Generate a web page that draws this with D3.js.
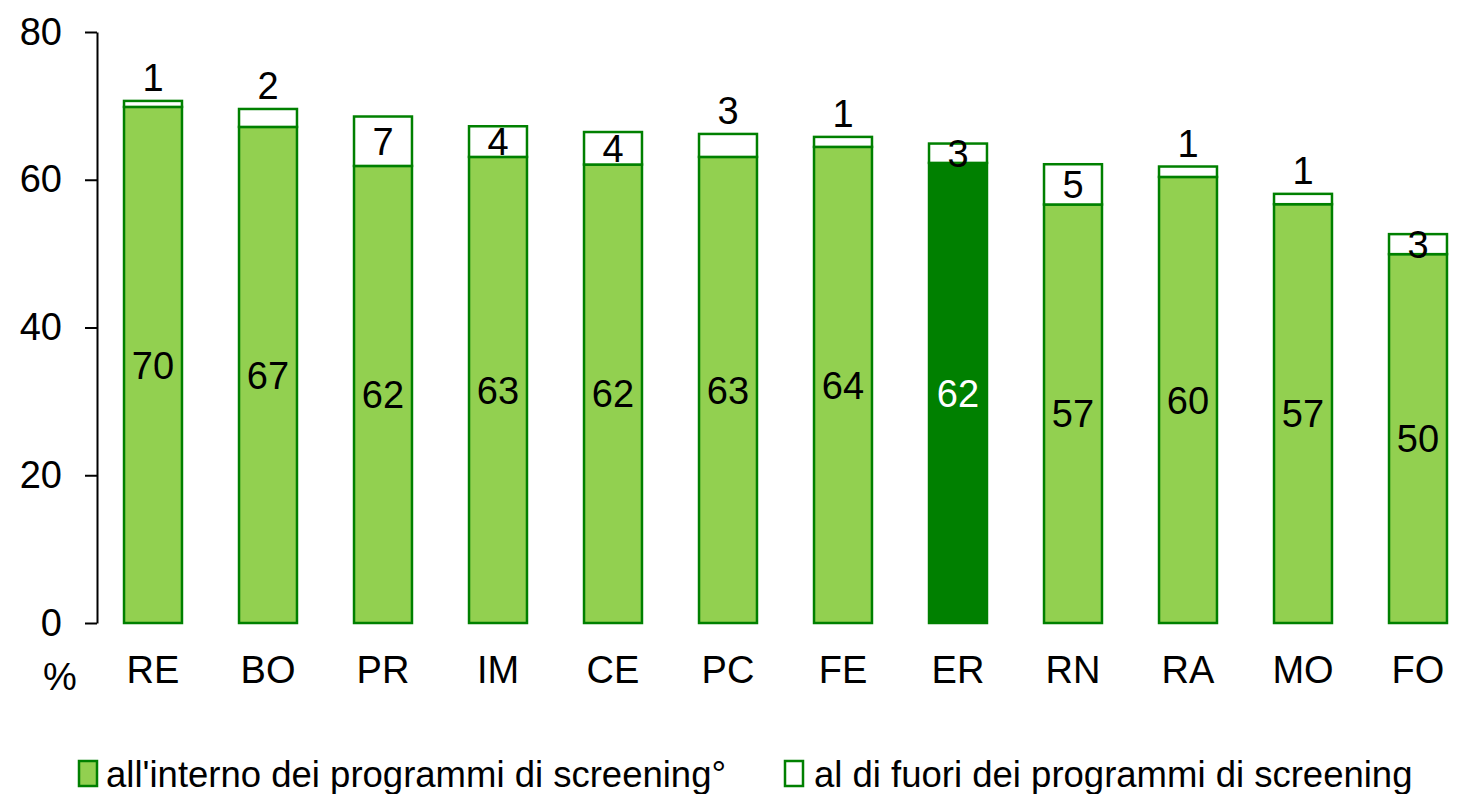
<!DOCTYPE html>
<html>
<head>
<meta charset="utf-8">
<script src="https://cdn.jsdelivr.net/npm/d3@7"></script>
<style>
  html, body { margin: 0; padding: 0; background: #fff; }
  svg { display: block; font-family: "Liberation Sans", Arial, sans-serif; }
</style>
</head>
<body>
<svg id="chart" width="1460" height="794"></svg>
<script>
// ---- data ----
const categories = ["RE", "BO", "PR", "IM", "CE", "PC", "FE", "ER", "RN", "RA", "MO", "FO"];
const insideValues = [69.86, 67.15, 61.87, 63.09, 62.06, 63.09, 64.45, 62.28, 56.65, 60.38, 56.69, 49.93];
const outsideValues = [0.81, 2.43, 6.69, 4.15, 4.40, 3.11, 1.35, 2.62, 5.45, 1.41, 1.40, 2.71];
const outsideLabelPlacement = ["above", "above", "center", "center", "center", "above", "above", "center", "center", "above", "above", "center"];
const highlightCategory = "ER";
const yTicks = [0, 20, 40, 60, 80];
const seriesNames = ["all'interno dei programmi di screening°", "al di fuori dei programmi di screening"];

// ---- styles ----
const lightGreen = "#92D050";
const darkGreen = "#008000";
const strokeGreen = "#008000";
const fontSize = 38;

const svg = d3.select("#chart");

const x = d3.scaleBand()
  .domain(categories)
  .range([95.5, 1475.5])
  .paddingInner(0.496)
  .paddingOuter(0.248);

const y = d3.scaleLinear().domain([0, 80]).range([623, 32]);

const data = categories.map((c, i) => ({
  cat: c,
  inside: insideValues[i],
  outside: outsideValues[i],
  total: insideValues[i] + outsideValues[i],
  place: outsideLabelPlacement[i]
}));

// ---- y axis ----
const yAxis = d3.axisLeft(y).tickValues(yTicks).tickSize(12).tickSizeOuter(0).tickPadding(23);
const gy = svg.append("g").attr("transform", "translate(97,0)").call(yAxis);
gy.select(".domain").attr("stroke", "#000").attr("stroke-width", 2);
gy.selectAll(".tick line").attr("stroke", "#000").attr("stroke-width", 2);
gy.selectAll(".tick text")
  .attr("font-size", fontSize)
  .attr("font-family", "Liberation Sans, Arial, sans-serif")
  .attr("fill", "#000");

// ---- x labels ----
const xAxis = d3.axisBottom(x).tickSize(0).tickPadding(0);
const gx = svg.append("g").attr("transform", "translate(0,623)").call(xAxis);
gx.select(".domain").remove();
gx.selectAll(".tick text")
  .attr("font-size", fontSize)
  .attr("font-family", "Liberation Sans, Arial, sans-serif")
  .attr("fill", "#000")
  .attr("dy", null)
  .attr("y", 60);

svg.append("text")
  .attr("x", 60).attr("y", 690)
  .attr("text-anchor", "middle")
  .attr("font-size", fontSize)
  .text("%");

// ---- bars ----
const bars = svg.append("g").selectAll("g").data(data).join("g");

bars.append("rect")
  .attr("x", d => x(d.cat))
  .attr("width", x.bandwidth())
  .attr("y", d => y(d.inside))
  .attr("height", d => y(0) - y(d.inside))
  .attr("fill", d => d.cat === highlightCategory ? darkGreen : lightGreen)
  .attr("stroke", strokeGreen)
  .attr("stroke-width", 2.5);

bars.append("rect")
  .attr("x", d => x(d.cat))
  .attr("width", x.bandwidth())
  .attr("y", d => y(d.total))
  .attr("height", d => y(d.inside) - y(d.total))
  .attr("fill", "#fff")
  .attr("stroke", strokeGreen)
  .attr("stroke-width", 2.5);

// inside labels
bars.append("text")
  .attr("x", d => x(d.cat) + x.bandwidth() / 2)
  .attr("y", d => (y(d.inside) + y(0)) / 2)
  .attr("dy", "0.36em")
  .attr("text-anchor", "middle")
  .attr("font-size", fontSize)
  .attr("fill", d => d.cat === highlightCategory ? "#fff" : "#000")
  .text(d => d3.format(".0f")(d.inside));

// outside labels
bars.append("text")
  .attr("x", d => x(d.cat) + x.bandwidth() / 2)
  .attr("y", d => d.place === "above" ? y(d.total) - 10 : (y(d.total) + y(d.inside)) / 2)
  .attr("dy", d => d.place === "above" ? 0 : "0.36em")
  .attr("text-anchor", "middle")
  .attr("font-size", fontSize)
  .attr("fill", "#000")
  .text(d => d3.format(".0f")(d.outside));

// ---- legend ----
const legendItems = [
  { name: seriesNames[0], fill: lightGreen, x: 79, tx: 106 },
  { name: seriesNames[1], fill: "#fff", x: 785, tx: 814 }
];
const lg = svg.append("g").selectAll("g").data(legendItems).join("g");
lg.append("rect")
  .attr("x", d => d.x).attr("y", 761)
  .attr("width", 18).attr("height", 25)
  .attr("fill", d => d.fill)
  .attr("stroke", strokeGreen)
  .attr("stroke-width", 2.5);
lg.append("text")
  .attr("x", d => d.tx).attr("y", 787)
  .attr("font-size", 36.5)
  .attr("fill", "#000")
  .text(d => d.name);
</script>
</body>
</html>
